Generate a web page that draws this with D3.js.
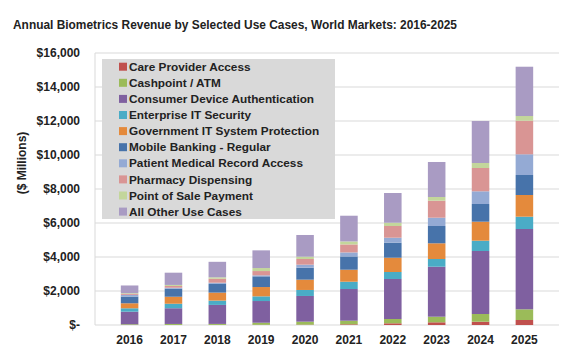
<html>
<head></head>
<body style="margin:0;background:white">
<svg id="svg" width="576" height="362"></svg>
<script src="https://cdn.jsdelivr.net/npm/d3@7"></script>
<script>

var years = ["2016","2017","2018","2019","2020","2021","2022","2023","2024","2025"];
var seriesNames = ["Care Provider Access","Cashpoint / ATM","Consumer Device Authentication",
  "Enterprise IT Security","Government IT System Protection","Mobile Banking - Regular",
  "Patient Medical Record Access","Pharmacy Dispensing","Point of Sale Payment","All Other Use Cases"];
var colors = ["#C0504D","#9BBB59","#7F60A0","#4AACC6","#E48A3C","#4773AA","#94AAD4","#D99594","#C3D69B","#A99BC3"];

// $ millions
var careProvider = [2, 3, 5, 10, 20, 40, 100, 159, 194, 294];
var cashpoint    = [41, 59, 59, 124, 176, 212, 253, 329, 453, 629];
var consumer     = [741, 924, 1118, 1276, 1512, 1865, 2353, 2941, 3706, 4724];
var enterprise   = [200, 265, 253, 276, 353, 429, 412, 453, 606, 724];
var government   = [294, 412, 471, 547, 606, 706, 841, 924, 1118, 1276];
var mobile       = [394, 470, 512, 629, 706, 782, 882, 1018, 1041, 1176];
var patient      = [100, 59, 70, 59, 176, 235, 294, 488, 747, 1218];
var pharmacy     = [59, 106, 235, 253, 335, 471, 688, 1000, 1371, 1976];
var pos          = [41, 59, 82, 176, 135, 176, 194, 218, 294, 276];
var allOther     = [453, 720, 912, 1041, 1276, 1512, 1747, 2059, 2471, 2900];

var yTicks = [0, 2000, 4000, 6000, 8000, 10000, 12000, 14000, 16000];

var allSeries = [careProvider, cashpoint, consumer, enterprise, government, mobile, patient, pharmacy, pos, allOther];
var table = years.map((y, i) => {
  var row = {year: y};
  seriesNames.forEach((n, k) => row[n] = allSeries[k][i]);
  return row;
});
var stacked = d3.stack().keys(seriesNames)(table);

var svg = d3.select("#svg");
var font = "'Liberation Sans', Arial, sans-serif";

var x = d3.scaleBand().domain(years).range([94.5, 559.5]).padding(0.6);
var y = d3.scaleLinear().domain([0, 16000]).range([325, 53]);

// gridlines
svg.append("g").selectAll("line").data(yTicks.slice(1)).join("line")
  .attr("x1", 95).attr("x2", 559)
  .attr("y1", d => y(d)).attr("y2", d => y(d))
  .style("stroke", "#d9d9d9").style("stroke-width", 1);

// axis lines
svg.append("line").attr("x1", 95).attr("x2", 95).attr("y1", 53).attr("y2", 325)
  .style("stroke", "#d9d9d9");
svg.append("line").attr("x1", 95).attr("x2", 559).attr("y1", 325).attr("y2", 325)
  .style("stroke", "#d9d9d9");

// bars
svg.append("g").selectAll("g").data(stacked).join("g")
  .style("fill", (d, i) => colors[i])
  .selectAll("rect").data(d => d).join("rect")
    .attr("x", d => x(d.data.year))
    .attr("width", x.bandwidth())
    .attr("y", d => y(d[1]))
    .attr("height", d => y(d[0]) - y(d[1]));

// y tick labels
svg.append("g").selectAll("text").data(yTicks).join("text")
  .attr("x", 80).attr("y", d => y(d)).attr("dy", "0.35em")
  .attr("text-anchor", "end")
  .style("font-family", font).style("font-size", "12px").style("font-weight", "bold")
  .style("fill", "#222")
  .text(d => d === 0 ? "$-" : "$" + d3.format(",")(d));

// x labels
svg.append("g").selectAll("text").data(years).join("text")
  .attr("x", d => x(d) + x.bandwidth() / 2).attr("y", 340).attr("dy", "0.35em")
  .attr("text-anchor", "middle")
  .style("font-family", font).style("font-size", "12px").style("font-weight", "bold")
  .style("fill", "#222")
  .text(d => d);

// y axis title
svg.append("text")
  .attr("transform", "translate(22,163) rotate(-90)")
  .attr("text-anchor", "middle").attr("dy", "0.35em")
  .style("font-family", font).style("font-size", "12px").style("font-weight", "bold")
  .style("fill", "#222")
  .text("($ Millions)");

// title
svg.append("text")
  .attr("x", 13).attr("y", 25).attr("dy", "0.35em")
  .style("font-family", font).style("font-size", "12.5px").style("font-weight", "bold")
  .style("fill", "#222")
  .attr("textLength", 444).attr("lengthAdjust", "spacingAndGlyphs")
  .text("Annual Biometrics Revenue by Selected Use Cases, World Markets: 2016-2025");

// legend
var lg = svg.append("g");
lg.append("rect").attr("x", 102).attr("y", 59).attr("width", 233).attr("height", 160)
  .style("fill", "#d9d9d9");
var items = lg.selectAll("g.it").data(seriesNames).join("g").classed("it", true)
  .attr("transform", (d, i) => "translate(119," + (66.7 + i * 16.1) + ")");
items.append("rect").attr("x", 0).attr("y", -4).attr("width", 8).attr("height", 8)
  .style("fill", (d, i) => colors[i]);
items.append("text").attr("x", 10).attr("y", 0).attr("dy", "0.35em")
  .style("font-family", font).style("font-size", "11.8px").style("font-weight", "bold")
  .style("fill", "#222")
  .text(d => d);

</script>
</body>
</html>
